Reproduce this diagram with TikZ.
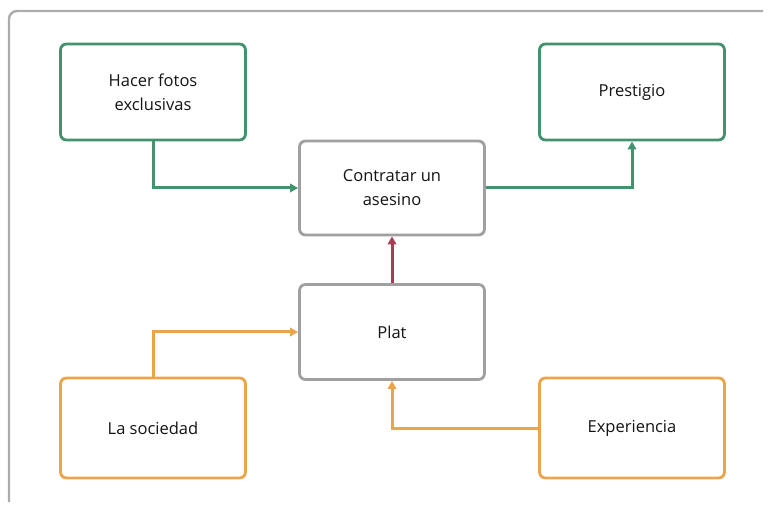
\documentclass[tikz,border=0pt]{standalone}
\usepackage{fontspec}
\setmainfont{Open Sans}
\usepackage{tikz}
\usetikzlibrary{arrows.meta,calc}

\definecolor{verde}{RGB}{66,146,110}
\definecolor{naranja}{RGB}{234,165,74}
\definecolor{gris}{RGB}{160,160,160}
\definecolor{rojo}{RGB}{165,62,84}
\definecolor{marco}{RGB}{172,172,172}

\tikzset{
  caja/.style={draw, line width=2.8pt, rounded corners=6pt, fill=white,
    minimum width=185pt, minimum height=96pt, align=center,
    font=\fontsize{16.5}{24}\selectfont, text=black!92},
  flecha/.style={line width=3pt, -{Triangle[length=8pt,width=8.5pt]}}
}

\begin{document}
\begin{tikzpicture}[x=1pt, y=-1pt]
\useasboundingbox (0,0) rectangle (772,505);
% marco
\draw[marco, line width=2.4pt, rounded corners=8pt] (763,11) -| (9,502);
% cajas
\node[caja, draw=verde] (fotos) at (153,92) {Hacer fotos\\exclusivas};
\node[caja, draw=verde] (prestigio) at (632,92) {Prestigio};
\node[caja, draw=gris, minimum height=94pt] (asesino) at (392,188) {Contratar un\\asesino};
\node[caja, draw=gris, minimum height=95pt] (plat) at (392,332) {Plat};
\node[caja, draw=naranja, minimum height=100pt] (sociedad) at (153,428) {La sociedad};
\node[caja, draw=naranja, minimum height=100pt] (experiencia) at (632,428) {Experiencia};
% flechas
\draw[flecha, verde] (fotos.south) |- (asesino.west);
\draw[flecha, verde] (asesino.east) -| (prestigio.south);
\draw[flecha, rojo] (plat.north) -- (asesino.south);
\draw[flecha, naranja] (sociedad.north) |- (plat.west);
\draw[flecha, naranja] (experiencia.west) -| (plat.south);
\end{tikzpicture}
\end{document}
